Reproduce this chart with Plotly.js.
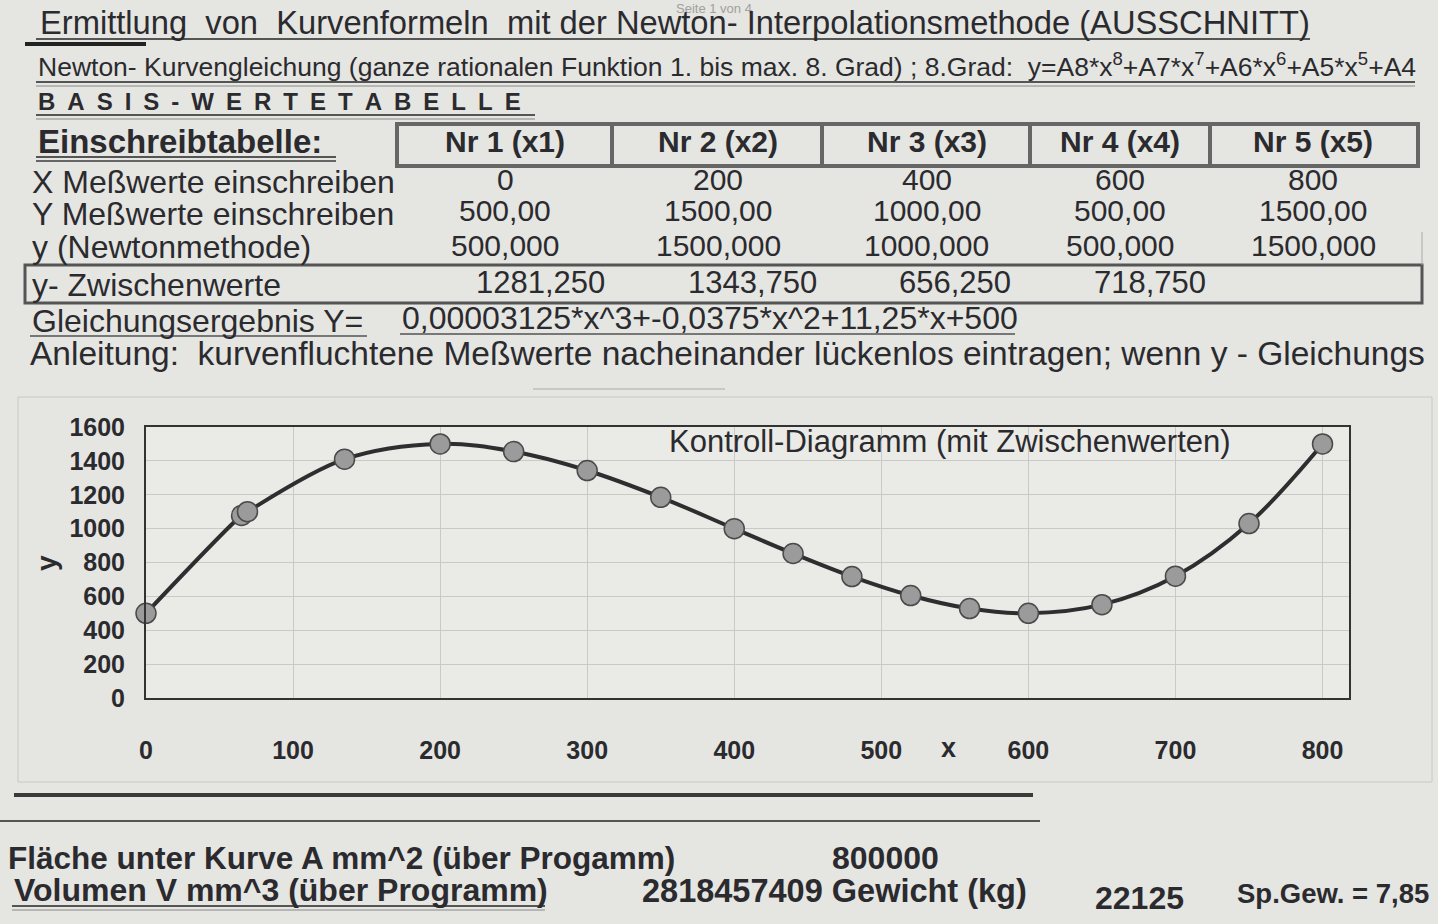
<!DOCTYPE html>
<html><head><meta charset="utf-8">
<script src="https://cdn.plot.ly/plotly-3.0.1.min.js"></script>
<style>html,body{margin:0;padding:0;background:#e5e5e1;}#chart{width:1438px;height:924px;}</style>
</head><body><div id="chart"></div>
<script>
// ---------- data ----------
const headers = ["Nr 1 (x1)", "Nr 2 (x2)", "Nr 3 (x3)", "Nr 4 (x4)", "Nr 5 (x5)"];
const xMess = ["0", "200", "400", "600", "800"];
const yMess = ["500,00", "1500,00", "1000,00", "500,00", "1500,00"];
const yNewton = ["500,000", "1500,000", "1000,000", "500,000", "1500,000"];
const yZwischen = ["1281,250", "1343,750", "656,250", "718,750"];
const formula = "0,00003125*x^3+-0,0375*x^2+11,25*x+500";
const chartX = [0, 65, 69, 135, 200, 250, 300, 350, 400, 440, 480, 520, 560, 600, 650, 700, 750, 800];
const chartY = [500, 1078, 1100, 1410, 1500, 1455, 1343, 1185, 1000, 853, 717, 605, 528, 500, 551, 719, 1030, 1500];
const xTicks = [0, 100, 200, 300, 400, 500, 600, 700, 800];
const yTicks = [0, 200, 400, 600, 800, 1000, 1200, 1400, 1600];
const flaeche = "800000";
const volumen = "2818457409";
const gewicht = "22125";
const spGew = "7,85";

// ---------- helpers ----------
const W = 1438, H = 924;
const SANS = "Liberation Sans, Arial, sans-serif";
const NARROW = "Liberation Sans Narrow, Arial Narrow, Liberation Sans, sans-serif";
const INK = "#2b2b2f";
const ann = [];
function T(text, x, y, size, opt) {
  opt = opt || {};
  ann.push({text: text, x: x / W, y: 1 - y / H, xref: "paper", yref: "paper",
    showarrow: false, xanchor: opt.anchor || "left", yanchor: "middle",
    font: {family: opt.family || SANS, size: size, color: opt.color || INK, weight: opt.weight || "normal"}});
}
const shapes = [];
function L(x0, y0, x1, y1, w, c) {
  shapes.push({type: "line", xref: "paper", yref: "paper", x0: x0 / W, y0: 1 - y0 / H, x1: x1 / W, y1: 1 - y1 / H,
    line: {color: c || "#444", width: w || 2}});
}
function R(x0, y0, x1, y1, w, c) {
  shapes.push({type: "rect", xref: "paper", yref: "paper", x0: x0 / W, y0: 1 - y0 / H, x1: x1 / W, y1: 1 - y1 / H,
    line: {color: c || "#555", width: w || 3}, fillcolor: "rgba(0,0,0,0)", layer: "below"});
}

// ---------- top texts ----------
T("Seite 1 von 4", 714, 8, 13, {anchor: "center", color: "#a0a0a0"});
T("Ermittlung  von  Kurvenformeln  mit der Newton- Interpolationsmethode (AUSSCHNITT)", 38, 23, 32.7);
L(36, 39, 1310, 39, 2, "#555"); L(25, 44, 146, 44, 4, "#222");
T("Newton- Kurvengleichung (ganze rationalen Funktion 1. bis max. 8. Grad) ; 8.Grad:  y=A8*x<sup>8</sup>+A7*x<sup>7</sup>+A6*x<sup>6</sup>+A5*x<sup>5</sup>+A4", 36, 65, 26.5, {family: NARROW});
L(36, 82, 1415, 82, 2, "#555"); L(36, 86, 1415, 86, 1, "#888");
T("B\u2002A\u2002S\u2002I\u2002S\u2002-\u2002W\u2002E\u2002R\u2002T\u2002E\u2002T\u2002A\u2002B\u2002E\u2002L\u2002L\u2002E", 36, 101, 24, {weight: "bold"});
L(36, 115, 535, 115, 2, "#555"); L(36, 119, 535, 119, 1, "#888");

T("Einschreibtabelle:", 36, 141, 33, {weight: "bold"});
L(36, 157, 336, 157, 2, "#555"); L(36, 161, 336, 161, 2, "#666");

// table header box
R(397, 124, 1418, 166, 4, "#666");
[612, 822, 1030, 1210].forEach(x => L(x, 124, x, 166, 4, "#666"));
const colX = [505, 718, 927, 1120, 1313];
headers.forEach((h, i) => T(h, colX[i], 141, 30, {anchor: "center", weight: "bold"}));

T("X Meßwerte einschreiben", 30, 182, 32);
T("Y Meßwerte einschreiben", 30, 214, 32);
T("y (Newtonmethode)", 30, 247, 32);
xMess.forEach((v, i) => T(v, colX[i], 179, 30, {anchor: "center"}));
yMess.forEach((v, i) => T(v, colX[i], 211, 30, {anchor: "center"}));
yNewton.forEach((v, i) => T(v, colX[i], 245, 30, {anchor: "center"}));
L(1422, 232, 1422, 265, 1, "#aaa");

R(25, 265, 1422, 303, 3, "#555");
T("y- Zwischenwerte", 30, 285, 32);
const zwX = [540, 752, 955, 1150];
yZwischen.forEach((v, i) => T(v, zwX[i], 282, 31, {anchor: "center"}));

T("Gleichungsergebnis Y=", 30, 321, 32);
L(30, 336, 367, 336, 2, "#777");
T(formula, 400, 318, 32);
L(400, 334, 1015, 334, 2, "#777");
T("Anleitung:  kurvenfluchtene Meßwerte nacheinander lückenlos eintragen; wenn y - Gleichungs", 28, 353, 33.5);
L(533, 389, 725, 389, 1, "#aaa");

// chart frame
R(18, 397, 1432, 782, 1, "#c8c8c4");
T("Kontroll-Diagramm (mit Zwischenwerten)", 667, 442, 31, {});
ann.push({text: "y", x: 46 / W, y: 1 - 563 / H, xref: "paper", yref: "paper", showarrow: false,
  textangle: -90, xanchor: "center", yanchor: "middle", font: {family: SANS, size: 28, color: INK, weight: "bold"}});
T("x", 948, 748, 27, {anchor: "center", weight: "bold"});

// bottom
L(14, 795, 1033, 795, 4, "#3a3a3a");
L(0, 821, 1040, 821, 2, "#555");
T("Fläche unter Kurve A mm^2 (über Progamm)", 6, 858, 31.5, {family: NARROW, weight: "bold"});
T(flaeche, 830, 858, 32, {family: NARROW, weight: "bold"});
T("Volumen V mm^3 (über Programm)", 12, 890, 32, {family: NARROW, weight: "bold"});
L(12, 906, 545, 906, 2, "#555"); L(12, 910, 545, 910, 1, "#888");
T(volumen + " Gewicht (kg)", 640, 891, 32.5, {family: NARROW, weight: "bold"});
T(gewicht, 1093, 898, 32, {family: NARROW, weight: "bold"});
T("Sp.Gew. = " + spGew, 1235, 893, 27.5, {family: NARROW, weight: "bold"});

// ---------- chart ----------
const x0 = 146, x1 = 1349, yTop = 427, yBot = 698;
const trace = {
  x: chartX, y: chartY, type: "scatter", mode: "lines+markers",
  line: {shape: "spline", smoothing: 1, color: "#2e2e30", width: 4},
  marker: {size: 20, color: "#9b9b9b", line: {color: "#4a4a4a", width: 1.5}},
  hoverinfo: "skip", cliponaxis: false
};
const layout = {
  width: W, height: H, margin: {l: 0, r: 0, t: 0, b: 0},
  paper_bgcolor: "#e5e5e1", plot_bgcolor: "#eaeae6",
  showlegend: false,
  xaxis: {domain: [x0 / W, x1 / W], range: [0, 818], tickvals: xTicks, ticktext: xTicks.map(String),
    showgrid: true, gridcolor: "#c9c9c6", gridwidth: 1, zeroline: false,
    showline: true, linecolor: "#333", linewidth: 2, mirror: true, ticks: "",
    ticklabelstandoff: 29, tickfont: {family: SANS, size: 25, color: INK, weight: "bold"}, fixedrange: true},
  yaxis: {domain: [1 - yBot / H, 1 - yTop / H], range: [0, 1600], tickvals: yTicks, ticktext: yTicks.map(String),
    showgrid: true, gridcolor: "#c9c9c6", gridwidth: 1, zeroline: false,
    showline: true, linecolor: "#333", linewidth: 2, mirror: true, ticks: "",
    ticklabelstandoff: 14, tickfont: {family: SANS, size: 25, color: INK, weight: "bold"}, fixedrange: true},
  annotations: ann, shapes: shapes
};
Plotly.newPlot("chart", [trace], layout, {staticPlot: true});
</script></body></html>
